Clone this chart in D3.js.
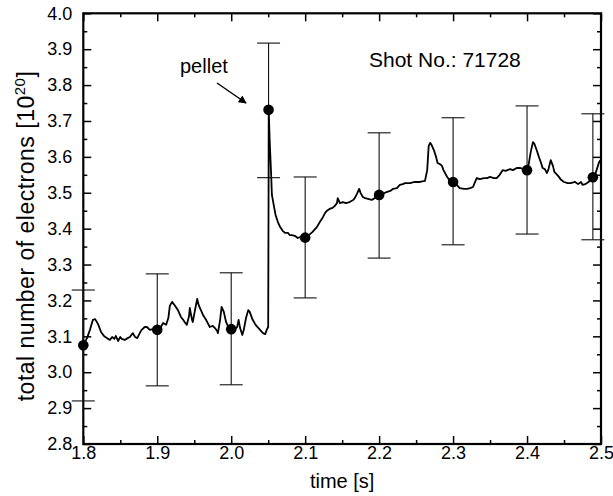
<!DOCTYPE html>
<html><head><meta charset="utf-8">
<script src="https://cdn.jsdelivr.net/npm/d3@7"></script>
<style>
html,body{margin:0;padding:0;background:#fff;}
svg{display:block;font-family:"Liberation Sans",Arial,sans-serif;}
</style></head>
<body>
<svg id="chart" width="613" height="496"></svg>
<script>
// ---- data ----
const traceTime = [1.800,1.805,1.809,1.813,1.816,1.820,1.824,1.828,1.832,1.836,1.839,1.842,1.844,1.847,1.850,1.852,1.856,1.860,1.863,1.867,1.870,1.873,1.877,1.879,1.883,1.886,1.890,1.894,1.900,1.904,1.908,1.912,1.915,1.917,1.920,1.924,1.928,1.932,1.935,1.937,1.940,1.943,1.944,1.947,1.948,1.951,1.954,1.956,1.959,1.962,1.966,1.969,1.971,1.975,1.978,1.981,1.982,1.985,1.987,1.990,1.993,1.996,2.000,2.004,2.008,2.010,2.012,2.015,2.017,2.020,2.023,2.025,2.029,2.033,2.039,2.043,2.046,2.048,2.050,2.0505,2.0507,2.052,2.054,2.055,2.058,2.060,2.063,2.066,2.070,2.073,2.077,2.079,2.082,2.086,2.090,2.094,2.100,2.105,2.110,2.116,2.120,2.124,2.127,2.129,2.133,2.137,2.140,2.143,2.144,2.147,2.151,2.155,2.160,2.165,2.167,2.170,2.173,2.175,2.178,2.181,2.185,2.190,2.194,2.200,2.205,2.210,2.215,2.219,2.224,2.228,2.232,2.235,2.242,2.248,2.255,2.262,2.265,2.267,2.269,2.271,2.274,2.277,2.279,2.282,2.285,2.287,2.292,2.296,2.300,2.304,2.309,2.315,2.319,2.323,2.327,2.329,2.332,2.336,2.342,2.346,2.350,2.355,2.359,2.363,2.367,2.371,2.377,2.381,2.386,2.390,2.396,2.400,2.402,2.405,2.408,2.410,2.413,2.416,2.419,2.421,2.424,2.427,2.429,2.432,2.435,2.437,2.442,2.446,2.450,2.455,2.459,2.465,2.469,2.473,2.475,2.479,2.483,2.486,2.489,2.492,2.494,2.497,2.499];
const traceNe = [3.076,3.095,3.118,3.146,3.148,3.134,3.112,3.101,3.095,3.090,3.098,3.093,3.101,3.087,3.098,3.093,3.090,3.095,3.098,3.109,3.098,3.095,3.112,3.118,3.126,3.126,3.118,3.120,3.118,3.123,3.137,3.132,3.151,3.185,3.196,3.185,3.173,3.154,3.146,3.140,3.132,3.157,3.179,3.146,3.140,3.173,3.204,3.187,3.173,3.159,3.146,3.134,3.126,3.129,3.123,3.115,3.109,3.146,3.182,3.168,3.140,3.126,3.120,3.118,3.126,3.146,3.123,3.104,3.118,3.151,3.173,3.168,3.146,3.132,3.118,3.109,3.106,3.118,3.126,3.480,3.731,3.647,3.550,3.494,3.460,3.438,3.419,3.405,3.393,3.388,3.388,3.382,3.382,3.380,3.374,3.377,3.374,3.382,3.391,3.405,3.419,3.432,3.444,3.449,3.455,3.458,3.463,3.471,3.485,3.471,3.474,3.471,3.474,3.480,3.485,3.497,3.511,3.499,3.488,3.485,3.483,3.480,3.485,3.494,3.497,3.502,3.505,3.511,3.513,3.522,3.524,3.527,3.527,3.530,3.530,3.533,3.563,3.630,3.639,3.633,3.619,3.600,3.583,3.580,3.575,3.563,3.544,3.533,3.530,3.524,3.513,3.511,3.511,3.513,3.516,3.527,3.541,3.538,3.541,3.541,3.544,3.541,3.541,3.550,3.563,3.561,3.566,3.563,3.569,3.569,3.566,3.563,3.577,3.614,3.641,3.636,3.619,3.600,3.583,3.569,3.566,3.555,3.566,3.591,3.575,3.558,3.547,3.536,3.530,3.527,3.527,3.530,3.524,3.530,3.522,3.524,3.530,3.536,3.541,3.550,3.563,3.583,3.591];

const dotTime = [1.800, 1.900, 2.000, 2.0505, 2.100, 2.200, 2.300, 2.400, 2.489];
const dotNe   = [3.075, 3.118, 3.120, 3.731, 3.375, 3.494, 3.530, 3.563, 3.543];
const errLow  = [2.920, 2.962, 2.965, 3.542, 3.207, 3.318, 3.355, 3.385, 3.369];
const errHigh = [3.229, 3.274, 3.277, 3.917, 3.544, 3.667, 3.709, 3.742, 3.720];

const xTicks = [1.8, 1.9, 2.0, 2.1, 2.2, 2.3, 2.4, 2.5];
const yTicks = [2.8, 2.9, 3.0, 3.1, 3.2, 3.3, 3.4, 3.5, 3.6, 3.7, 3.8, 3.9, 4.0];
const xMinor = [1.85, 1.95, 2.05, 2.15, 2.25, 2.35, 2.45];
const yMinor = [2.85, 2.95, 3.05, 3.15, 3.25, 3.35, 3.45, 3.55, 3.65, 3.75, 3.85, 3.95];

// ---- drawing ----
const svg = d3.select("#chart");
const L = 83.3, R = 601, T = 13.3, B = 444;
const x = d3.scaleLinear().domain([1.8, 2.5]).range([L, R]);
const y = d3.scaleLinear().domain([2.8, 4.0]).range([B, T]);

const fmt = d3.format(".1f");
function styleAxis(g){
  g.select(".domain").remove();
  g.selectAll(".tick line").attr("stroke","#000").attr("stroke-width",1.5);
}
// major ticks with labels
svg.append("g").attr("transform",`translate(0,${B})`)
  .call(d3.axisBottom(x).tickValues(xTicks).tickFormat(fmt).tickSizeInner(-8).tickPadding(2))
  .call(styleAxis)
  .selectAll("text").attr("font-size",18).attr("fill","#000").attr("font-family","Liberation Sans, Arial, sans-serif");
svg.append("g").attr("transform",`translate(${L},0)`)
  .call(d3.axisLeft(y).tickValues(yTicks).tickFormat(fmt).tickSizeInner(-8).tickPadding(11))
  .call(styleAxis)
  .selectAll("text").attr("font-size",18).attr("fill","#000").attr("font-family","Liberation Sans, Arial, sans-serif");
svg.append("g").attr("transform",`translate(0,${T})`)
  .call(d3.axisTop(x).tickValues(xTicks).tickFormat("").tickSizeInner(-8))
  .call(styleAxis);
svg.append("g").attr("transform",`translate(${R},0)`)
  .call(d3.axisRight(y).tickValues(yTicks).tickFormat("").tickSizeInner(-8))
  .call(styleAxis);
// minor ticks
svg.append("g").attr("transform",`translate(0,${B})`)
  .call(d3.axisBottom(x).tickValues(xMinor).tickFormat("").tickSizeInner(-4)).call(styleAxis);
svg.append("g").attr("transform",`translate(0,${T})`)
  .call(d3.axisTop(x).tickValues(xMinor).tickFormat("").tickSizeInner(-4)).call(styleAxis);
svg.append("g").attr("transform",`translate(${L},0)`)
  .call(d3.axisLeft(y).tickValues(yMinor).tickFormat("").tickSizeInner(-4)).call(styleAxis);
svg.append("g").attr("transform",`translate(${R},0)`)
  .call(d3.axisRight(y).tickValues(yMinor).tickFormat("").tickSizeInner(-4)).call(styleAxis);

// frame
svg.append("rect").attr("x",L).attr("y",T).attr("width",R-L).attr("height",B-T)
  .attr("fill","none").attr("stroke","#000").attr("stroke-width",2.2);

// error bars
const eb = svg.append("g").attr("stroke","#111").attr("stroke-width",1.1);
dotTime.forEach((t,i)=>{
  eb.append("line").attr("x1",x(t)).attr("x2",x(t)).attr("y1",y(errLow[i])).attr("y2",y(errHigh[i]));
  [errLow[i], errHigh[i]].forEach(v=>{
    eb.append("line").attr("x1",x(t)-11.5).attr("x2",x(t)+11.5).attr("y1",y(v)).attr("y2",y(v));
  });
});

// trace
const traceData = traceTime.map((t,i)=>[t, traceNe[i]]);
svg.append("path").datum(traceData)
  .attr("fill","none").attr("stroke","#000").attr("stroke-width",1.8).attr("stroke-linejoin","round")
  .attr("d", d3.line().x(d=>x(d[0])).y(d=>y(d[1])));

// dots
svg.append("g").selectAll("circle").data(dotTime).join("circle")
  .attr("cx",d=>x(d)).attr("cy",(d,i)=>y(dotNe[i])).attr("r",5.3).attr("fill","#000");

// annotations
svg.append("text").attr("x",180).attr("y",73).attr("font-size",20).attr("fill","#000").text("pellet");
svg.append("defs").append("marker").attr("id","ah").attr("viewBox","0 0 10 10")
  .attr("refX",9).attr("refY",5).attr("markerWidth",10).attr("markerHeight",8).attr("orient","auto")
  .attr("markerUnits","userSpaceOnUse")
  .append("path").attr("d","M0,0 L10,5 L0,10 z").attr("fill","#000");
svg.append("line").attr("x1",217).attr("y1",83).attr("x2",246).attr("y2",103)
  .attr("stroke","#000").attr("stroke-width",1.5).attr("marker-end","url(#ah)");
svg.append("text").attr("x",369).attr("y",67).attr("font-size",21).attr("fill","#000").text("Shot No.: 71728");

// axis titles
svg.append("text").attr("x",(L+R)/2).attr("y",488).attr("text-anchor","middle")
  .attr("font-size",20).attr("fill","#000").text("time [s]");
const yl = svg.append("text").attr("transform",`translate(34,236) rotate(-90)`)
  .attr("text-anchor","middle").attr("font-size",23).attr("letter-spacing","0.5px").attr("fill","#000");
yl.append("tspan").text("total number of electrons [10");
yl.append("tspan").attr("font-size",15).attr("dy",-9).text("20");
yl.append("tspan").attr("dy",9).text("]");
</script>
</body></html>
